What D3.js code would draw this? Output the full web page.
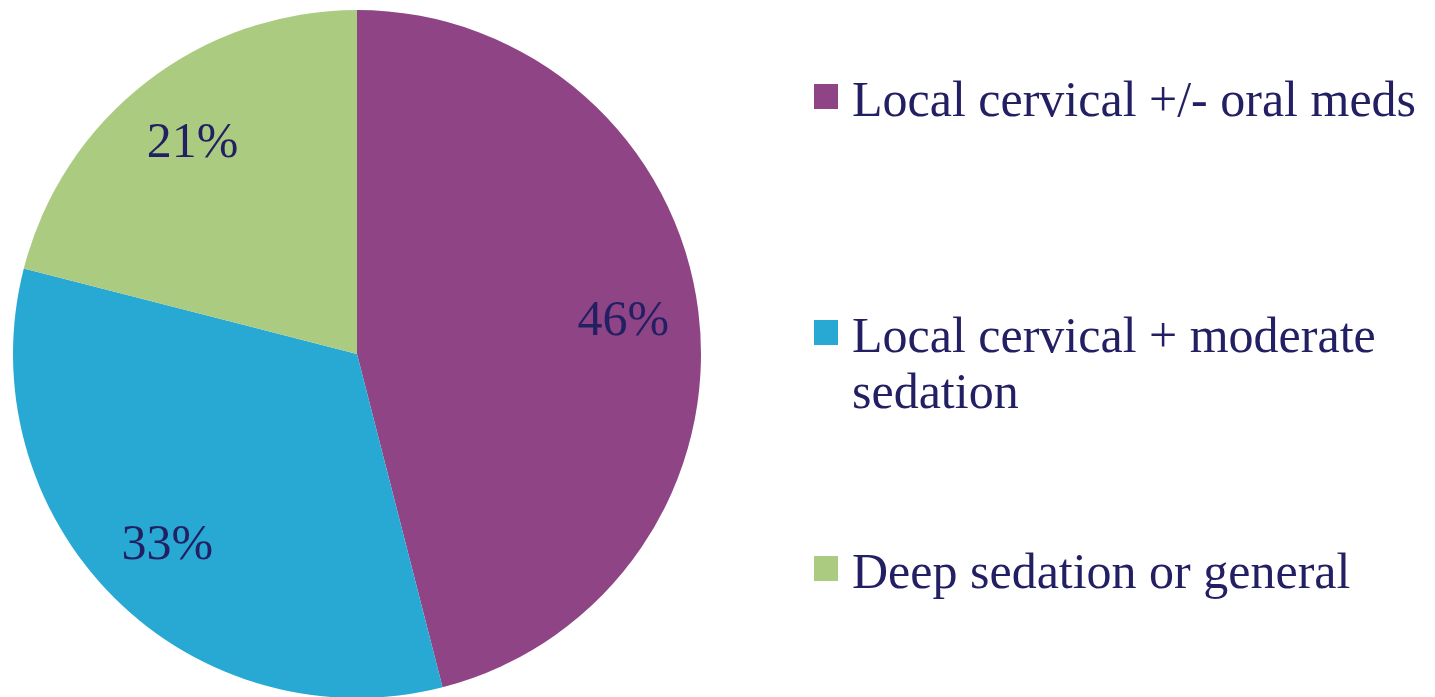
<!DOCTYPE html>
<html>
<head>
<meta charset="utf-8">
<script src="https://d3js.org/d3.v7.min.js"></script>
<style>
  body { margin: 0; background: #fff; }
  text { font-family: "Liberation Serif", "DejaVu Serif", serif; fill: #231f63; }
</style>
</head>
<body>
<script>
// data
var categories = ["Local cervical +/- oral meds", "Local cervical + moderate sedation", "Deep sedation or general"];
var values = [46, 33, 21];
var colors = ["#8e4485", "#28a9d4", "#abcb80"];
var legendLines = [["Local cervical +/- oral meds"], ["Local cervical + moderate", "sedation"], ["Deep sedation or general"]];

var width = 1435, height = 697;
var cx = 357, cy = 354, r = 344;

var svg = d3.select("body").append("svg")
    .attr("width", width)
    .attr("height", height);

var pie = d3.pie().sort(null).value(function (d) { return d; });
var arc = d3.arc().innerRadius(0).outerRadius(r);
var labelArc = d3.arc().innerRadius(r * 0.78).outerRadius(r * 0.78);

var g = svg.append("g").attr("transform", "translate(" + cx + "," + cy + ")");
var arcs = pie(values);

g.selectAll("path")
    .data(arcs)
    .enter()
    .append("path")
    .attr("d", arc)
    .attr("fill", function (d, i) { return colors[i]; });

// percentage labels
g.selectAll("text")
    .data(arcs)
    .enter()
    .append("text")
    .attr("transform", function (d) { return "translate(" + labelArc.centroid(d) + ")"; })
    .attr("text-anchor", "middle")
    .attr("dy", "0.3em")
    .style("font-size", "50px")
    .text(function (d) { return d.value + "%"; });

// legend
var legendY = [116, 352, 588];
var legend = svg.append("g");
categories.forEach(function (c, i) {
    legend.append("rect")
        .attr("x", 814)
        .attr("y", legendY[i] - 32)
        .attr("width", 24)
        .attr("height", 25)
        .attr("fill", colors[i]);
    legendLines[i].forEach(function (line, j) {
        legend.append("text")
            .attr("x", 852)
            .attr("y", legendY[i] + j * 56)
            .style("font-size", "50px")
            .text(line);
    });
});
</script>
</body>
</html>
